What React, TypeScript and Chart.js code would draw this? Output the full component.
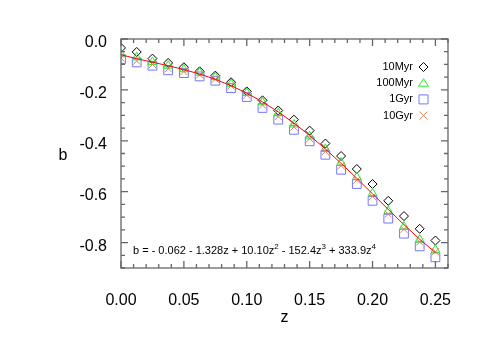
import { useEffect, useRef } from "react";
import { Chart, registerables } from "chart.js";

Chart.register(...registerables);

const FONT = "'Liberation Sans', Arial, Helvetica, sans-serif";

// redshift grid
const Z = [
  0, 0.0125, 0.025, 0.0375, 0.05, 0.0625, 0.075, 0.0875, 0.1, 0.1125, 0.125,
  0.1375, 0.15, 0.1625, 0.175, 0.1875, 0.2, 0.2125, 0.225, 0.2375, 0.25,
];

const B_10MYR = [
  -0.035, -0.051, -0.077, -0.094, -0.111, -0.127, -0.144, -0.17, -0.206, -0.241,
  -0.281, -0.317, -0.36, -0.411, -0.46, -0.511, -0.57, -0.636, -0.696, -0.746, -0.792,
];
const B_100MYR = [
  -0.06, -0.072, -0.09, -0.105, -0.119, -0.132, -0.15, -0.176, -0.212, -0.249,
  -0.292, -0.336, -0.383, -0.432, -0.486, -0.543, -0.606, -0.676, -0.737, -0.788, -0.828,
];
const B_1GYR = [
  -0.079, -0.092, -0.105, -0.123, -0.134, -0.147, -0.164, -0.193, -0.228, -0.271,
  -0.317, -0.357, -0.402, -0.455, -0.514, -0.57, -0.636, -0.706, -0.765, -0.815, -0.858,
];
const B_10GYR = [
  -0.075, -0.087, -0.1, -0.117, -0.128, -0.141, -0.158, -0.185, -0.22, -0.26,
  -0.305, -0.346, -0.392, -0.442, -0.498, -0.555, -0.619, -0.688, -0.748, -0.798, -0.836,
];
const B_FIT = [
  -0.062, -0.0773, -0.0911, -0.105, -0.1201, -0.1377, -0.1585, -0.1834, -0.2128, -0.2471,
  -0.2864, -0.3305, -0.3793, -0.4322, -0.4887, -0.5478, -0.6086, -0.6697, -0.7297, -0.787, -0.8397,
];

const SERIES_LABELS = ["10Myr", "100Myr", "1Gyr", "10Gyr"];
const SERIES_COLORS = ["#000000", "#22ee22", "#7777ff", "#d08a60"];
const SERIES_STYLES = ["diamond", "triangle", "square", "cross"];
const FIT_COLOR = "#ff0000";

const X_TITLE = "z";
const Y_TITLE = "b";
const EQ_PARTS: [string, boolean][] = [
  ["b = - 0.062 - 1.328z + 10.10z", false],
  ["2", true],
  [" - 152.4z", false],
  ["3", true],
  [" + 333.9z", false],
  ["4", true],
];

const X_MIN = 0;
const X_MAX = 0.26;
const Y_MIN = -0.9;
const Y_MAX = 0;

function pts(ys: number[]) {
  return Z.map((z, i) => ({ x: z, y: ys[i] }));
}

function drawMarker(ctx: CanvasRenderingContext2D, style: string, x: number, y: number, color: string) {
  ctx.save();
  ctx.strokeStyle = color;
  ctx.lineWidth = 1;
  ctx.beginPath();
  if (style === "diamond") {
    const r = 4.5;
    ctx.moveTo(x - r, y);
    ctx.lineTo(x, y - r);
    ctx.lineTo(x + r, y);
    ctx.lineTo(x, y + r);
    ctx.closePath();
  } else if (style === "triangle") {
    const r = 5;
    ctx.moveTo(x - r, y + r * 0.6);
    ctx.lineTo(x, y - r * 0.9);
    ctx.lineTo(x + r, y + r * 0.6);
    ctx.closePath();
  } else if (style === "square") {
    const r = 4.5;
    ctx.rect(x - r, y - r, 2 * r, 2 * r);
  } else {
    const r = 4;
    ctx.moveTo(x - r, y - r);
    ctx.lineTo(x + r, y + r);
    ctx.moveTo(x + r, y - r);
    ctx.lineTo(x - r, y + r);
  }
  ctx.stroke();
  ctx.restore();
}

const idlPlugin = {
  id: "idlFrame",
  afterDraw(chart: any) {
    const { ctx, chartArea } = chart;
    const { left, right, top, bottom } = chartArea;
    const xs = chart.scales.x;
    const ys = chart.scales.y;
    ctx.save();
    // frame
    ctx.strokeStyle = "#666";
    ctx.lineWidth = 1.3;
    ctx.strokeRect(left, top, right - left, bottom - top);
    // x ticks (inward, top and bottom)
    for (let i = 0; i <= 26; i++) {
      const px = xs.getPixelForValue(i * 0.01);
      const len = i % 5 === 0 ? 7 : 4;
      ctx.beginPath();
      ctx.moveTo(px, bottom);
      ctx.lineTo(px, bottom - len);
      ctx.moveTo(px, top);
      ctx.lineTo(px, top + len);
      ctx.stroke();
    }
    // y ticks (inward, left and right)
    for (let i = 0; i <= 18; i++) {
      const py = ys.getPixelForValue(-i * 0.05);
      const len = i % 4 === 0 ? 7 : 4;
      ctx.beginPath();
      ctx.moveTo(left, py);
      ctx.lineTo(left + len, py);
      ctx.moveTo(right, py);
      ctx.lineTo(right - len, py);
      ctx.stroke();
    }
    // axis titles
    ctx.fillStyle = "#000";
    ctx.font = `16px ${FONT}`;
    ctx.textAlign = "center";
    ctx.textBaseline = "middle";
    ctx.fillText(X_TITLE, (left + right) / 2, 318);
    ctx.fillText(Y_TITLE, 63, (top + bottom) / 2 + 2);
    // legend
    ctx.font = `11px ${FONT}`;
    ctx.textAlign = "right";
    SERIES_LABELS.forEach((lab, i) => {
      const yy = 67 + i * 16.2;
      ctx.fillStyle = "#000";
      ctx.fillText(lab, 413, yy);
      drawMarker(ctx, SERIES_STYLES[i], 423.5, yy, SERIES_COLORS[i]);
    });
    // equation
    let x = 133;
    const base = 254;
    ctx.textAlign = "left";
    ctx.textBaseline = "alphabetic";
    ctx.fillStyle = "#000";
    for (const [txt, sup] of EQ_PARTS) {
      ctx.font = sup ? `8px ${FONT}` : `11px ${FONT}`;
      ctx.fillText(txt, x, sup ? base - 5 : base);
      x += ctx.measureText(txt).width;
    }
    ctx.restore();
  },
};

export default function App() {
  const ref = useRef<HTMLCanvasElement>(null);
  useEffect(() => {
    const styleMap: Record<string, string> = {
      diamond: "rectRot",
      triangle: "triangle",
      square: "rect",
      cross: "crossRot",
    };
    const radii: Record<string, number> = { diamond: 4.5, triangle: 5, square: 6.2, cross: 5 };
    const series = [B_10MYR, B_100MYR, B_1GYR, B_10GYR];
    const orders = [4, 2, 3, 1];
    const datasets: any[] = series.map((ys, i) => ({
      label: SERIES_LABELS[i],
      data: pts(ys),
      showLine: false,
      pointStyle: styleMap[SERIES_STYLES[i]],
      pointRadius: radii[SERIES_STYLES[i]],
      pointBorderWidth: 1,
      pointBorderColor: SERIES_COLORS[i],
      pointBackgroundColor: "rgba(0,0,0,0)",
      clip: 0,
      order: orders[i],
    }));
    datasets.push({
      label: "fit",
      data: pts(B_FIT),
      showLine: true,
      borderColor: FIT_COLOR,
      borderWidth: 1,
      pointRadius: 0,
      tension: 0,
      clip: 0,
      order: 0,
    });
    const chart = new Chart(ref.current!, {
      type: "scatter",
      data: { datasets },
      options: {
        responsive: false,
        animation: false,
        events: [],
        layout: { padding: { top: 39, right: 37, left: 0, bottom: 0 } },
        plugins: { legend: { display: false }, tooltip: { enabled: false }, title: { display: false } },
        scales: {
          x: {
            type: "linear",
            min: X_MIN,
            max: X_MAX,
            grid: { display: false },
            border: { display: false },
            ticks: {
              stepSize: 0.05,
              includeBounds: false,
              padding: 15,
              color: "#000",
              maxRotation: 0,
              autoSkip: false,
              font: { family: FONT, size: 16 },
              callback: (v: any) => Number(v).toFixed(2),
            },
            afterFit: (s: any) => {
              s.height = 78;
            },
          },
          y: {
            type: "linear",
            min: Y_MIN,
            max: Y_MAX,
            grid: { display: false },
            border: { display: false },
            ticks: {
              stepSize: 0.2,
              includeBounds: false,
              padding: 6,
              labelOffset: 4,
              color: "#000",
              font: { family: FONT, size: 16 },
              callback: (v: any) => Number(v).toFixed(1),
            },
            afterFit: (s: any) => {
              s.width = 121;
            },
          },
        },
      },
      plugins: [idlPlugin],
    });
    return () => chart.destroy();
  }, []);
  return (
    <div style={{ position: "fixed", left: 0, top: 0, width: 485, height: 346, background: "#fff" }}>
      <canvas ref={ref} width={485} height={346} style={{ display: "block" }} />
    </div>
  );
}
